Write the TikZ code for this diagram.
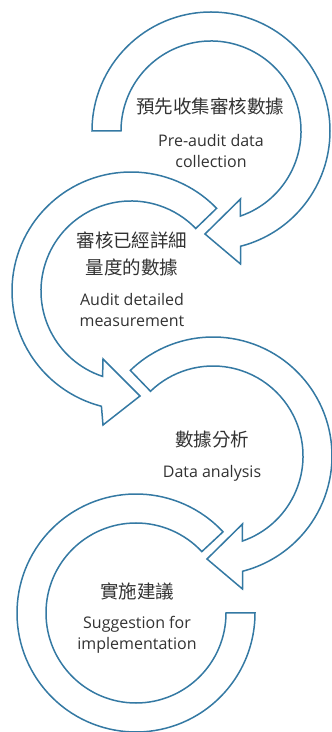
\documentclass[tikz,border=0pt]{standalone}
\usepackage{fontspec}
\usetikzlibrary{calc}
\setmainfont{Open Sans}
\newfontfamily\cjk{Noto Sans CJK TC}
\definecolor{ringblue}{RGB}{52,121,163}
\definecolor{labelgray}{RGB}{50,50,50}
\tikzset{
  ring/.style={draw=ringblue, line width=1.5pt, fill=white, line join=miter},
  zhlabel/.style={text=labelgray, align=center, inner sep=0pt,
    font=\cjk\fontsize{18.5}{26.5}\selectfont},
  enlabel/.style={text=labelgray, align=center, inner sep=0pt,
    font=\fontsize{16}{21.5}\selectfont}
}
\begin{document}
\begin{tikzpicture}[x=1pt,y=1pt]
\useasboundingbox (0,0) rectangle (332,732);
% ring centres
\coordinate (c1) at (211,601);
\coordinate (c2) at (131,441);
\coordinate (c3) at (213,276);
\coordinate (c4) at (136,119);

% arrow 4: open ring, no head
\draw[ring] ($(c4)+(43:119)$) arc[start angle=43, end angle=360, radius=119]
  -- ($(c4)+(0:90)$) arc[start angle=360, end angle=43, radius=90] -- cycle;

% arrow 3: clockwise, head at the bottom
\draw[ring] ($(c3)+(134:119)$) arc[start angle=134, end angle=-75.6, radius=119]
  -- ($(c3)+(29.5,-133)$) -- ($(c3)+(-6,-103)$) -- ($(c3)+(29.5,-68)$)
  -- ($(c3)+(-70.9:90)$) arc[start angle=-70.9, end angle=134, radius=90] -- cycle;

% arrow 2: counter-clockwise, head at the bottom
\draw[ring] ($(c2)+(44:119)$) arc[start angle=44, end angle=255.6, radius=119]
  -- ($(c2)+(-28,-134)$) -- ($(c2)+(9,-105)$) -- ($(c2)+(-28,-68)$)
  -- ($(c2)+(251.6:90)$) arc[start angle=251.6, end angle=44, radius=90] -- cycle;

% arrow 1: clockwise, head at the bottom
\draw[ring] ($(c1)+(180:119)$) arc[start angle=180, end angle=-75.6, radius=119]
  -- ($(c1)+(29.5,-133)$) -- ($(c1)+(-6,-103)$) -- ($(c1)+(29.5,-68)$)
  -- ($(c1)+(-70.9:90)$) arc[start angle=-70.9, end angle=180, radius=90] -- cycle;

% labels
\node[zhlabel] (z1) at (210,626) {預先收集審核數據};
\node[enlabel] (e1) at (211,581) {Pre-audit data\\collection};
\node[zhlabel] (z2) at (132,478) {審核已經詳細\\量度的數據};
\node[enlabel] (e2) at (132,422) {Audit detailed\\measurement};
\node[zhlabel] (z3) at (212,292) {數據分析};
\node[enlabel] (e3) at (212,259) {Data analysis};
\node[zhlabel] (z4) at (137,141) {實施建議};
\node[enlabel] (e4) at (137,97) {Suggestion for\\implementation};
\end{tikzpicture}
\end{document}
